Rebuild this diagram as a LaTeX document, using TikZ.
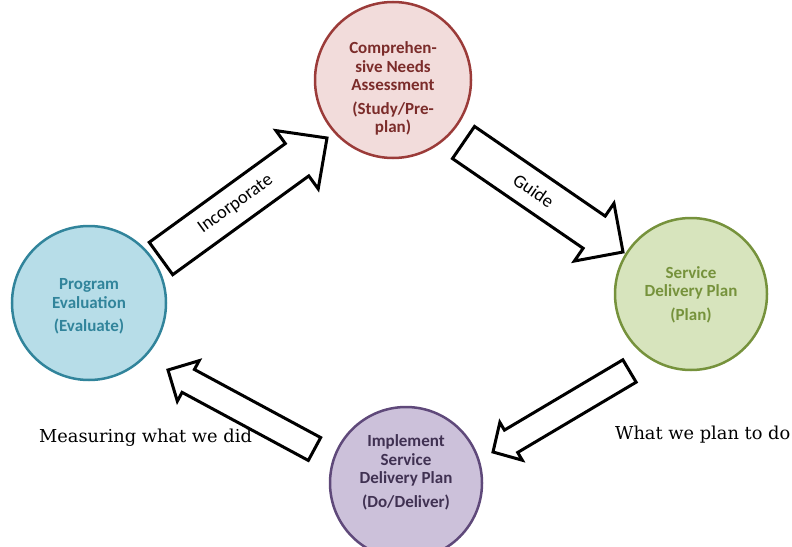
\documentclass[tikz,border=0pt]{standalone}
\usepackage{fontspec}
\setmainfont{DejaVu Serif}
\newfontfamily\calibri{Carlito}
\usepackage{tikz}
\usetikzlibrary{positioning,calc}

\definecolor{cnafill}{HTML}{F2DCDB}
\definecolor{cnaline}{HTML}{9B3B39}
\definecolor{cnatext}{HTML}{7B2C2A}
\definecolor{evalfill}{HTML}{B7DDE8}
\definecolor{evalline}{HTML}{31849B}
\definecolor{planfill}{HTML}{D7E4BD}
\definecolor{planline}{HTML}{76923C}
\definecolor{dofill}{HTML}{CCC1DA}
\definecolor{doline}{HTML}{5F497A}
\definecolor{dotext}{HTML}{403152}

\begin{document}
\begin{tikzpicture}[x=1pt, y=-1pt]
        % Define styles
        \tikzset{
            phase/.style={draw, circle, line width=2.5pt, inner sep=0pt},
            phasetext/.style={align=center, inner sep=0pt, font=\calibri\bfseries\fontsize{17}{18.5}\selectfont},
            arrowtext/.style={sloped, inner sep=0pt, font=\calibri\fontsize{18.5}{20}\selectfont},
            note/.style={anchor=base west, inner sep=0pt, font=\fontsize{17.8}{20}\selectfont},
            % block arrow: #1 half shaft, #2 half head, #3 head length
            flow/.style n args={3}{draw=black, fill=white, line width=3pt, line join=miter,
                to path={let \p1=(\tikztostart), \p2=(\tikztotarget),
                    \p3=($(\p2)!#3!(\p1)$) in
                    ($(\p1)!#1!90:(\p2)$) -- ($(\p3)!#1!90:(\p2)$) -- ($(\p3)!#2!90:(\p2)$)
                    -- (\p2) -- ($(\p3)!#2!-90:(\p2)$) -- ($(\p3)!#1!-90:(\p2)$)
                    -- ($(\p1)!#1!-90:(\p2)$) -- cycle}}
        }
        \useasboundingbox (0,0) rectangle (792,546);

        % Place nodes
        \node[phase, fill=cnafill, draw=cnaline, minimum size=156pt] (cna) at (393,80) {};
        \node[phase, fill=evalfill, draw=evalline, minimum size=154pt] (eval) at (89,303) {};
        \node[phase, fill=planfill, draw=planline, minimum size=152pt] (plan) at (691,294) {};
        \begin{scope}
            \clip (0,0) rectangle (792,546);
            \node[phase, fill=dofill, draw=doline, minimum size=152pt] (do) at (406,483) {};
        \end{scope}

        \node[phasetext, text=cnatext] (cna-text) at (393,88.5)
            {Comprehen-\\sive Needs\\Assessment\\[5pt](Study/Pre-\\plan)};
        \node[phasetext, text=evalline] (eval-text) at (89,306.5)
            {Program\\Evaluation\\[5pt](Evaluate)};
        \node[phasetext, text=planline] (plan-text) at (691,294.5)
            {Service\\Delivery Plan\\[5pt](Plan)};
        \node[phasetext, text=dotext] (do-text) at (406,472.5)
            {Implement\\Service\\Delivery Plan\\[5pt](Do/Deliver)};

        % Arrow ends
        \coordinate (inc-tail) at (161,258.5);
        \coordinate (inc-tip) at (327,138);
        \coordinate (guide-tail) at (463.5,142.5);
        \coordinate (guide-tip) at (623,252);
        \coordinate (deliver-tail) at (629.5,371);
        \coordinate (deliver-tip) at (493,452);
        \coordinate (measure-tail) at (314.5,449);
        \coordinate (measure-tip) at (168,370);

        % Draw arrows
        \draw[flow={20pt}{36pt}{37pt}] (inc-tail) to (inc-tip);
        \draw[flow={19.5pt}{35pt}{35pt}] (guide-tail) to (guide-tip);
        \draw[flow={13pt}{22pt}{21pt}] (deliver-tail) to (deliver-tip);
        \draw[flow={13pt}{23pt}{23pt}] (measure-tail) to (measure-tip);

        \path (inc-tail) -- node[arrowtext, pos=0.45] (inc-label) {Incorporate} (inc-tip);
        \path (guide-tail) -- node[arrowtext, pos=0.44] (guide-label) {Guide} (guide-tip);

        % Side notes
        \node[note] (measure-note) at (39,442) {Measuring what we did};
        \node[note] (plan-note) at (615,439) {What we plan to do};
\end{tikzpicture}
\end{document}
